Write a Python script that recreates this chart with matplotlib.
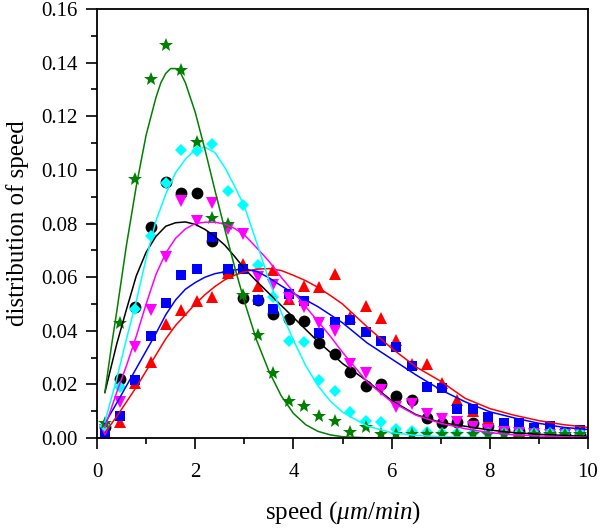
import matplotlib
matplotlib.use("Agg")
from matplotlib import pyplot as plt
from matplotlib.ticker import MultipleLocator, FormatStrFormatter

plt.rcParams['font.family'] = ['Liberation Serif', 'DejaVu Serif']
plt.rcParams['mathtext.fontset'] = 'custom'
plt.rcParams['mathtext.rm'] = 'Liberation Serif'
plt.rcParams['mathtext.it'] = 'Liberation Serif:italic'

# bin centres of the speed histogram
speed = [0.16, 0.47, 0.78, 1.09, 1.41, 1.72, 2.03, 2.34, 2.66, 2.97, 3.28, 3.59,
         3.91, 4.22, 4.53, 4.84, 5.16, 5.47, 5.78, 6.09, 6.41, 6.72, 7.03, 7.34,
         7.66, 7.97, 8.28, 8.59, 8.91, 9.22, 9.53, 9.84]

black = [0.004, 0.0222, 0.049, 0.0789, 0.0955, 0.0913, 0.0913, 0.0734, 0.062, 0.0524,
         0.0516, 0.0464, 0.0445, 0.0435, 0.0355, 0.0315, 0.0245, 0.0195, 0.0203, 0.0156,
         0.0142, 0.0073, 0.0055, 0.006, 0.0057, 0.0045, 0.003, 0.0025, 0.002, 0.0015,
         0.001, 0.001]
red = [0.002, 0.0061, 0.0205, 0.0284, 0.0424, 0.0476, 0.051, 0.0526, 0.0615, 0.065,
       0.0566, 0.0625, 0.052, 0.0566, 0.0565, 0.0612, 0.045, 0.0491, 0.0447, 0.0364,
       0.0275, 0.0278, 0.0204, 0.0142, 0.010, 0.007, 0.004, 0.0028, 0.003, 0.002,
       0.002, 0.0012]
blue = [0.002, 0.0082, 0.0218, 0.038, 0.0505, 0.061, 0.063, 0.0749, 0.0631, 0.0631,
        0.0516, 0.0483, 0.0536, 0.0513, 0.039, 0.0433, 0.0439, 0.0396, 0.0362, 0.034,
        0.0268, 0.0191, 0.0187, 0.011, 0.0107, 0.0079, 0.0057, 0.0055, 0.0036, 0.0046,
        0.002, 0.003]
magenta = [0.003, 0.0135, 0.034, 0.0478, 0.0677, 0.0883, 0.0809, 0.0876, 0.078, 0.0762,
           0.060, 0.0569, 0.0523, 0.0487, 0.0429, 0.0398, 0.0275, 0.0241, 0.0181, 0.0117,
           0.0127, 0.0088, 0.0071, 0.0061, 0.0042, 0.003, 0.0022, 0.002, 0.0015, 0.001,
           0.001, 0.001]
cyan = [0.0045, 0.0189, 0.048, 0.0755, 0.0952, 0.1074, 0.1069, 0.1097, 0.092, 0.0871,
        0.0644, 0.0526, 0.0362, 0.0358, 0.0216, 0.0176, 0.0098, 0.0065, 0.0061, 0.0032,
        0.0027, 0.0022, 0.002, 0.002, 0.002, 0.002, 0.002, 0.002, 0.002, 0.002,
        0.002, 0.002]
green = [0.0056, 0.043, 0.0965, 0.134, 0.1464, 0.1374, 0.1104, 0.082, 0.080, 0.0532,
         0.0383, 0.0243, 0.0138, 0.012, 0.0082, 0.0063, 0.0024, 0.0042, 0.0015, 0.0015,
         0.0015, 0.0015, 0.0015, 0.0015, 0.0015, 0.0015, 0.0015, 0.0015, 0.0015, 0.0015,
         0.0015, 0.0015]

# fitted curves
fit_x = [0.16, 0.4, 0.6, 0.8, 1.0, 1.2, 1.4, 1.6, 1.8, 2.0, 2.2, 2.4, 2.6, 2.8, 3.0,
         3.25, 3.5, 3.75, 4.0, 4.25, 4.5, 4.75, 5.0, 5.5, 6.0, 6.5, 7.0, 7.5, 8.0,
         8.5, 9.0, 9.5, 10.0]
black_fit = [0.017, 0.035, 0.048, 0.0605, 0.0693, 0.0752, 0.079, 0.0803, 0.0806, 0.0797,
             0.0778, 0.0752, 0.072, 0.0678, 0.0632, 0.0585, 0.054, 0.0495, 0.045, 0.0405,
             0.036, 0.032, 0.0278, 0.0213, 0.014, 0.0087, 0.0058, 0.0044, 0.003, 0.002,
             0.0014, 0.001, 0.0006]
red_fit = [0.002, 0.008, 0.0135, 0.019, 0.025, 0.031, 0.037, 0.042, 0.046, 0.050,
           0.0535, 0.0565, 0.059, 0.0607, 0.062, 0.063, 0.0632, 0.0625, 0.0607, 0.0587,
           0.0562, 0.0532, 0.050, 0.0415, 0.0335, 0.0265, 0.0212, 0.0148, 0.011, 0.0085,
           0.0065, 0.005, 0.004]
blue_fit = [0.0055, 0.013, 0.0195, 0.026, 0.0325, 0.039, 0.046, 0.0515, 0.0555, 0.058,
            0.060, 0.0613, 0.062, 0.0627, 0.063, 0.0622, 0.0598, 0.0568, 0.054, 0.0515,
            0.049, 0.046, 0.043, 0.0355, 0.0295, 0.0235, 0.018, 0.0135, 0.0098, 0.0075,
            0.0055, 0.004, 0.0032]
magenta_fit = [0.004, 0.017, 0.027, 0.038, 0.050, 0.061, 0.069, 0.0745, 0.078, 0.080,
               0.0805, 0.0805, 0.0798, 0.0782, 0.0758, 0.071, 0.066, 0.060, 0.0545, 0.049,
               0.0435, 0.038, 0.032, 0.021, 0.0135, 0.0085, 0.0055, 0.0035, 0.002, 0.0012,
               0.0008, 0.0005, 0.0003]
cyan_fit = [0.006, 0.022, 0.037, 0.051, 0.067, 0.081, 0.091, 0.099, 0.104, 0.1075,
            0.1085, 0.1065, 0.101, 0.094, 0.0865, 0.073, 0.059, 0.047, 0.0365, 0.027,
            0.0195, 0.0138, 0.0097, 0.0045, 0.002, 0.001, 0.0005, 0.0003, 0.0002, 0.0001,
            0.0001, 0.0001, 0.0001]
# the green curve is narrow, so it gets its own finer grid
green_fit_x = [0.16, 0.3, 0.4, 0.6, 0.8, 1.0, 1.2, 1.3, 1.4, 1.5, 1.6, 1.7, 1.8, 2.0,
               2.2, 2.4, 2.6, 2.8, 3.0, 3.25, 3.5, 3.75, 4.0, 4.25, 4.5, 4.75, 5.0,
               5.5, 6.0, 10.0]
green_fit = [0.017, 0.035, 0.047, 0.072, 0.094, 0.113, 0.127, 0.1325, 0.136, 0.1378,
             0.1378, 0.1362, 0.1325, 0.1215, 0.1075, 0.0925, 0.078, 0.064, 0.051, 0.0365,
             0.025, 0.0158, 0.0092, 0.005, 0.0025, 0.0012, 0.0005, 0.0001, 0, 0]

series = [
    (black, fit_x, black_fit, 'black', 'o', 8.5),
    (red, fit_x, red_fit, 'red', '^', 9),
    (blue, fit_x, blue_fit, 'blue', 's', 7.8),
    (magenta, fit_x, magenta_fit, 'magenta', 'v', 9),
    (cyan, fit_x, cyan_fit, 'cyan', 'D', 6.6),
    (green, green_fit_x, green_fit, 'green', '*', 10),
]

fig = plt.figure(figsize=(6, 5.31), dpi=100)
ax = fig.add_axes([0.1617, 0.175, 0.8183, 0.808])

for vals, fx, fy, col, mk, ms in series:
    ax.plot(speed, vals, linestyle='none', marker=mk, color=col,
            markersize=ms, markeredgewidth=0)
for vals, fx, fy, col, mk, ms in series:
    ax.plot(fx, fy, color=col, linewidth=1.1)

ax.set_xlim(0, 10)
ax.set_ylim(0, 0.16)
ax.xaxis.set_major_locator(MultipleLocator(2))
ax.xaxis.set_minor_locator(MultipleLocator(1))
ax.yaxis.set_major_locator(MultipleLocator(0.02))
ax.yaxis.set_minor_locator(MultipleLocator(0.01))
ax.yaxis.set_major_formatter(FormatStrFormatter('%.2f'))

ax.tick_params(which='both', direction='out', top=False, right=False,
               width=1.2, labelsize=15)
ax.tick_params(axis='x', which='major', length=8, pad=10)
ax.tick_params(axis='y', which='major', length=8, pad=6)
ax.tick_params(which='minor', length=4.5)
for sp in ax.spines.values():
    sp.set_linewidth(1.3)

ax.set_xlabel(r'speed ($\mathit{\mu m/min}$)', fontsize=18, labelpad=12)
ax.set_ylabel('distribution of speed', fontsize=18, labelpad=9)

fig.savefig('out.png', dpi=100)
